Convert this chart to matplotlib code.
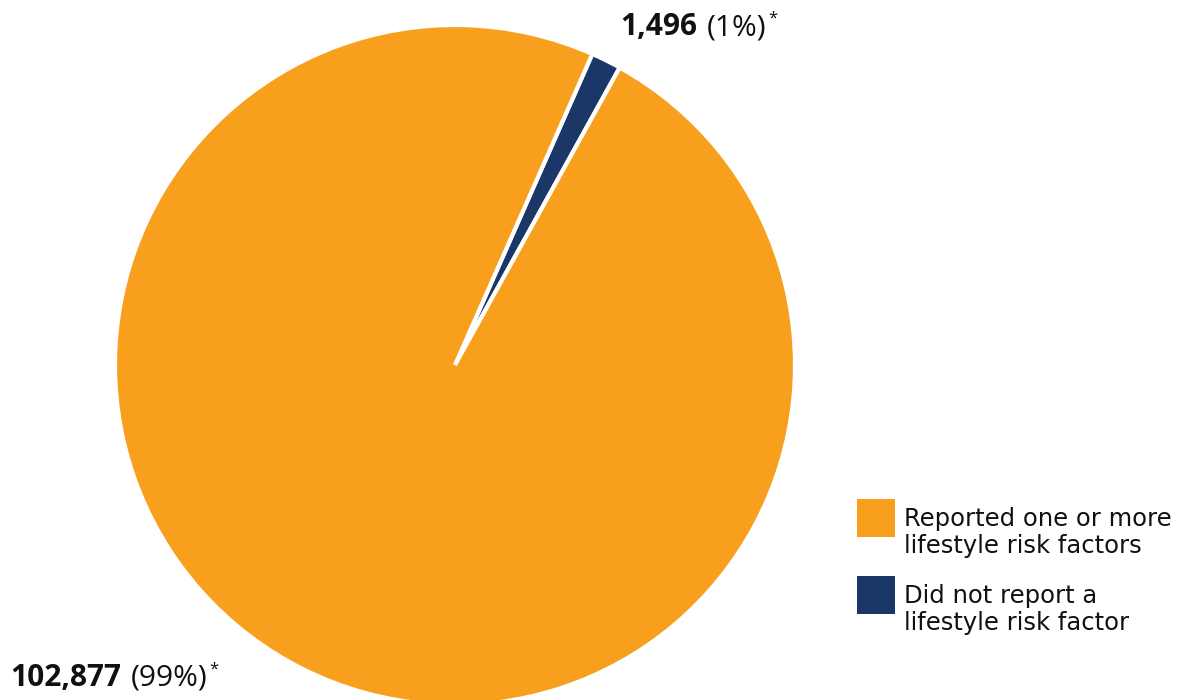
import matplotlib
matplotlib.use("Agg")
import matplotlib.pyplot as plt
from matplotlib.patches import Rectangle

labels = ["Did not report a\nlifestyle risk factor", "Reported one or more\nlifestyle risk factors"]
counts = [1496, 102877]
pct_text = ["(1%)", "(99%)"]
count_text = ["1,496", "102,877"]
colors = ["#1B3768", "#F89F1E"]

W, H = 1184, 700
fig = plt.figure(figsize=(W / 100, H / 100), dpi=100)

# pie centre (455, 365) px from top, radius 340 px
cx, cy, r = 455, 365, 340
ax = fig.add_axes([(cx - r) / W, (H - cy - r) / H, 2 * r / W, 2 * r / H])
total = sum(counts)
blue_deg = counts[0] / total * 360
start = 90 - 26.4 + blue_deg / 2
ax.pie(counts, colors=colors, startangle=start, counterclock=False,
       wedgeprops=dict(edgecolor="white", linewidth=3), radius=1)
ax.set_xlim(-1, 1)
ax.set_ylim(-1, 1)
ax.set_aspect("equal")
ax.axis("off")
for p in ax.patches:
    p.set_clip_on(False)

fig.canvas.draw()
renderer = fig.canvas.get_renderer()


def label(x, y, bold, normal):
    t1 = fig.text(x / W, 1 - y / H, bold, fontsize=21.5, fontweight="bold",
                  family="Open Sans", color="#111111", va="baseline")
    bb = t1.get_window_extent(renderer)
    t2 = fig.text((bb.x1 + 10) / W, 1 - y / H, normal, fontsize=21.5,
                  family="Open Sans", color="#111111", va="baseline")
    bb2 = t2.get_window_extent(renderer)
    fig.text((bb2.x1 + 2) / W, 1 - (y - 12) / H, "*", fontsize=12,
             family="Open Sans", color="#111111", va="baseline")


label(620, 35, count_text[0], pct_text[0])
label(10, 686, count_text[1], pct_text[1])

# legend
leg_items = [(labels[1], colors[1]), (labels[0], colors[0])]
for i, (lab, col) in enumerate(leg_items):
    top = 499 + i * 77
    fig.patches.append(Rectangle((857 / W, 1 - (top + 38) / H), 38 / W, 38 / H,
                                 transform=fig.transFigure, facecolor=col,
                                 edgecolor="none"))
    # baseline of the last line
    fig.text(904 / W, 1 - (top + 54) / H, lab, fontsize=17.5, family="DejaVu Sans",
             color="#111111", va="baseline", linespacing=1.15)

fig.savefig("out.png", dpi=100)
